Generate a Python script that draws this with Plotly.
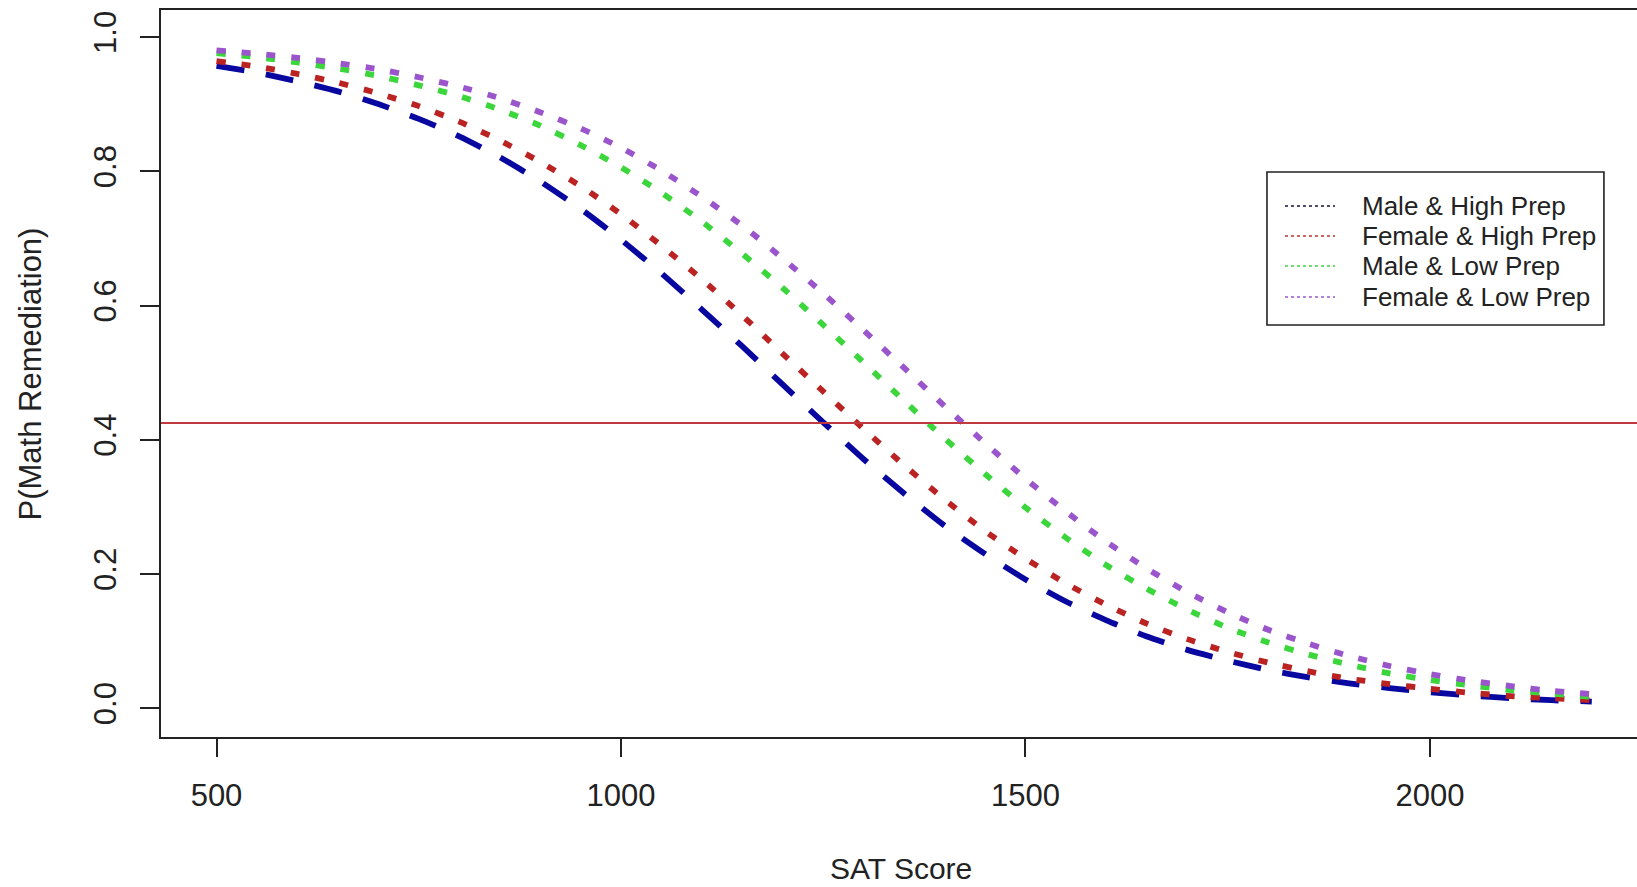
import plotly.graph_objects as go

# ---------------- data ----------------
sat = [500, 550, 600, 650, 700, 750, 800, 850, 900, 950,
       1000, 1050, 1100, 1150, 1200, 1250, 1300, 1350, 1400, 1450,
       1500, 1550, 1600, 1650, 1700, 1750, 1800, 1850, 1900, 1950,
       2000, 2050, 2100, 2150, 2200]

male_high = [0.957, 0.947, 0.934, 0.919, 0.900, 0.878, 0.852, 0.821, 0.785, 0.744,
             0.698, 0.648, 0.594, 0.539, 0.482, 0.426, 0.371, 0.320, 0.272, 0.230,
             0.192, 0.159, 0.131, 0.107, 0.087, 0.071, 0.057, 0.046, 0.037, 0.030,
             0.024, 0.019, 0.015, 0.012, 0.010]

female_high = [0.964, 0.956, 0.945, 0.932, 0.916, 0.897, 0.874, 0.846, 0.814, 0.778,
               0.736, 0.689, 0.639, 0.585, 0.528, 0.472, 0.416, 0.362, 0.311, 0.264,
               0.223, 0.186, 0.154, 0.126, 0.103, 0.084, 0.068, 0.055, 0.044, 0.036,
               0.029, 0.023, 0.018, 0.015, 0.012]

male_low = [0.976, 0.970, 0.962, 0.953, 0.942, 0.928, 0.912, 0.892, 0.868, 0.839,
            0.806, 0.768, 0.725, 0.677, 0.626, 0.571, 0.515, 0.458, 0.402, 0.349,
            0.299, 0.254, 0.213, 0.178, 0.147, 0.120, 0.098, 0.080, 0.065, 0.052,
            0.042, 0.034, 0.027, 0.022, 0.017]

female_low = [0.980, 0.975, 0.969, 0.961, 0.952, 0.940, 0.926, 0.909, 0.888, 0.864,
              0.835, 0.801, 0.762, 0.719, 0.670, 0.618, 0.563, 0.507, 0.450, 0.395,
              0.342, 0.293, 0.248, 0.208, 0.173, 0.143, 0.117, 0.096, 0.078, 0.063,
              0.051, 0.041, 0.033, 0.026, 0.021]

series_names = ["Male & High Prep", "Female & High Prep", "Male & Low Prep", "Female & Low Prep"]
series_values = [male_high, female_high, male_low, female_low]
series_colors = ["#0808A0", "#BB2222", "#3BD63B", "#9A55CC"]
legend_colors = ["#10103A", "#C03030", "#40D040", "#9A55CC"]
series_dash = ["28px,22px", "9px,16px", "9px,16px", "9px,16px"]

cutoff = 0.425

x_ticks = [500, 1000, 1500, 2000]
x_tick_labels = ["500", "1000", "1500", "2000"]
y_ticks = [0.0, 0.2, 0.4, 0.6, 0.8, 1.0]
y_tick_labels = ["0.0", "0.2", "0.4", "0.6", "0.8", "1.0"]

x_title = "SAT Score"
y_title = "P(Math Remediation)"

# ---------------- figure ----------------
FONT = "Liberation Sans, Arial, Helvetica, sans-serif"
INK = "#222222"

fig = go.Figure()
for name, vals, col, dash in zip(series_names, series_values, series_colors, series_dash):
    fig.add_trace(go.Scatter(
        x=sat, y=vals, mode="lines", name=name, showlegend=False,
        line=dict(color=col, width=5.8, dash=dash, shape="spline", smoothing=0.6),
    ))

# horizontal cutoff line
fig.add_shape(type="line", xref="paper", yref="y", x0=0, x1=1, y0=cutoff, y1=cutoff,
              line=dict(color="#C0393F", width=2), layer="above")

# manual legend (R style box)
L_X0, L_X1, L_Y0, L_Y1 = 0.7493, 0.9776, 0.5667, 0.7772
fig.add_shape(type="rect", xref="paper", yref="paper", x0=L_X0, x1=L_X1, y0=L_Y0, y1=L_Y1,
              line=dict(color=INK, width=1.6), fillcolor="white", layer="above")
row_y = [0.7304, 0.6891, 0.6478, 0.6052]
for name, col, yy in zip(series_names, legend_colors, row_y):
    fig.add_shape(type="line", xref="paper", yref="paper", x0=0.7615, x1=0.7954, y0=yy, y1=yy,
                  line=dict(color=col, width=1.6, dash="3px,3px"), layer="above")
    fig.add_annotation(xref="paper", yref="paper", x=0.8120, y=yy, text=name, showarrow=False,
                       xanchor="left", yanchor="middle",
                       font=dict(family=FONT, size=26, color=INK))

# axis titles
fig.add_annotation(xref="paper", yref="paper", x=0.5014, y=-0.1805, text=x_title, showarrow=False,
                   xanchor="center", yanchor="middle", font=dict(family=FONT, size=30, color=INK))
fig.add_annotation(xref="paper", yref="paper", x=-0.0881, y=0.5, text=y_title, showarrow=False,
                   textangle=-90, xanchor="center", yanchor="middle",
                   font=dict(family=FONT, size=31, color=INK))

fig.update_layout(
    width=1637, height=887,
    margin=dict(l=161, r=0, t=10, b=150, autoexpand=False),
    paper_bgcolor="white", plot_bgcolor="white",
    font=dict(family=FONT, size=31, color=INK),
    showlegend=False,
)
fig.update_xaxes(
    range=[431.4, 2255.9], tickmode="array", tickvals=x_ticks, ticktext=x_tick_labels,
    showgrid=False, zeroline=False, showline=True, linecolor=INK, linewidth=2, mirror=True,
    ticks="outside", ticklen=18, tickwidth=2, tickcolor=INK,
    tickfont=dict(family=FONT, size=31, color=INK), ticklabelstandoff=12,
)
fig.update_yaxes(
    range=[-0.0428, 1.0402], tickmode="array", tickvals=y_ticks, ticktext=y_tick_labels,
    showgrid=False, zeroline=False, showline=True, linecolor=INK, linewidth=2,
    ticks="outside", ticklen=19, tickwidth=2, tickcolor=INK, tickangle=-90,
    tickfont=dict(family=FONT, size=31, color=INK), ticklabelstandoff=12,
)

fig.write_html(
    "out.html",
    config={"displayModeBar": False},
    post_script="document.body.style.margin='0px';document.body.style.overflow='hidden';",
)
